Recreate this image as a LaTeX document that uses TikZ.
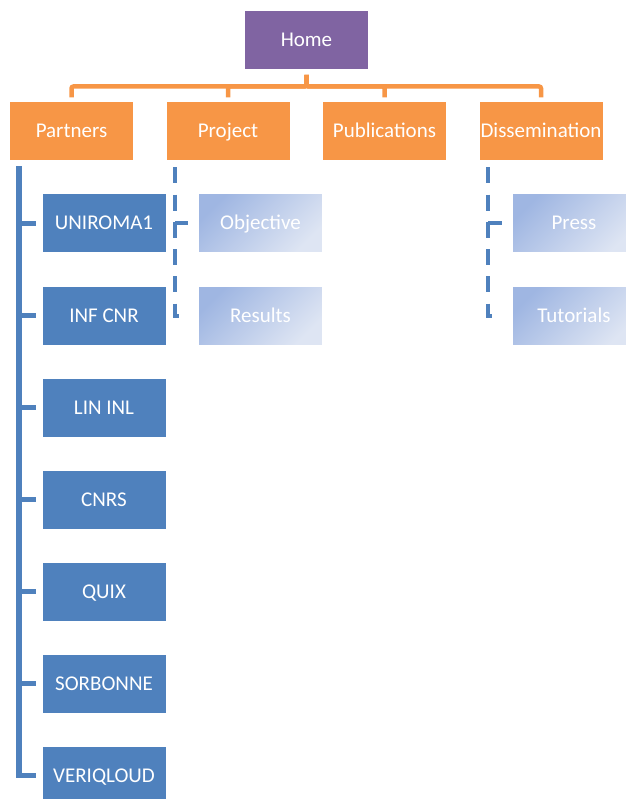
\documentclass[tikz,border=0pt]{standalone}
\usepackage{fontspec}
\setmainfont{Carlito}
\definecolor{homepurple}{HTML}{8064A2}
\definecolor{toporange}{HTML}{F79646}
\definecolor{partnerblue}{HTML}{4F81BD}
\definecolor{subdark}{HTML}{9FB6E2}
\definecolor{sublight}{HTML}{DEE5F3}
\begin{document}
\begin{tikzpicture}[x=1pt,y=-1pt,
  box/.style={rectangle,draw=white,line width=1pt,minimum width=124pt,
    minimum height=59pt,inner sep=0pt,text height=17pt,text depth=4pt,
    text=white,font=\fontsize{21}{25}\selectfont},
  subbox/.style={box,top color=subdark,bottom color=sublight,shading angle=45},
  homelink/.style={draw=toporange,line width=4.5pt,rounded corners=2pt,
    shorten <=5pt,shorten >=4pt},
  trunk/.style={draw=partnerblue,line width=5.5pt},
  dashtrunk/.style={draw=partnerblue,line width=4pt,dash pattern=on 16pt off 11.2pt}]
  \useasboundingbox (0,0) rectangle (625,799);

  \node[box,fill=homepurple] (home) at (306.5,40) {Home};
  \foreach \name/\x/\label in {partners/71.5/Partners,project/228/Project,
                               publications/384.5/Publications,
                               dissemination/541/Dissemination}
    \node[box,fill=toporange] (\name) at (\x,131.5) {\label};

  \foreach \name/\label [count=\i from 0] in {uniroma/UNIROMA1,infcnr/INF CNR,
      linl/LIN INL,cnrs/CNRS,quix/QUIX,sorbonne/SORBONNE,veriqloud/VERIQLOUD}
    \node[box,fill=partnerblue] (\name) at (104,223.5+92*\i) {\label};

  \node[subbox] (objective) at (260.5,223.5) {Objective};
  \node[subbox] (results)   at (260.5,315.5) {Results};
  \node[subbox] (press)     at (574,223.5)   {Press};
  \node[subbox] (tutorials) at (574,315.5)   {Tutorials};

  % top level
  \foreach \name in {partners,project,publications,dissemination}
    \draw[homelink] (home.south) -- ++(0,16.5) -| (\name.north);

  % partners
  \coordinate (ptrunk) at ([xshift=10pt,yshift=-5pt]partners.south west);
  \draw[trunk,shorten >=6pt] (ptrunk) |- (veriqloud.west);
  \foreach \name in {uniroma,infcnr,linl,cnrs,quix,sorbonne}
    \draw[trunk,shorten >=6pt] (ptrunk |- \name.west) -- (\name.west);

  % project and dissemination
  \foreach \parent/\first/\last in {project/objective/results,
                                    dissemination/press/tutorials} {
    \coordinate (\parent trunk) at ([xshift=9.5pt,yshift=-6pt]\parent.south west);
    \draw[dashtrunk,shorten >=19pt] (\parent trunk) |- (\last.west);
    \draw[dashtrunk,shorten >=10pt] (\parent trunk |- \first.west) -- (\first.west);
  }
\end{tikzpicture}
\end{document}
